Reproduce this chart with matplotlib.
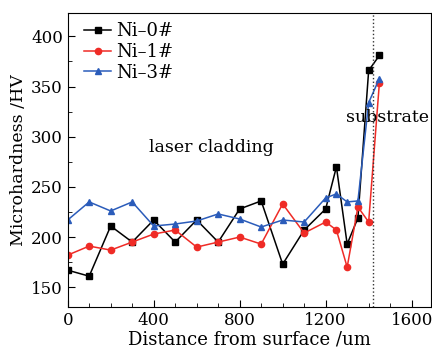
import numpy as np
import matplotlib
matplotlib.use("Agg")
import matplotlib.pyplot as plt
from matplotlib.ticker import MultipleLocator

plt.rcParams['font.family'] = ['DejaVu Serif']
plt.rcParams['mathtext.fontset'] = 'dejavuserif'

# distance from surface (um)
dist = [0, 100, 200, 300, 400, 500, 600, 700, 800, 900, 1000, 1100, 1200, 1250, 1300, 1350, 1400, 1450]
ni0 = [167, 161, 211, 195, 217, 195, 217, 195, 228, 236, 173, 207, 228, 270, 193, 219, 366, 381]
ni1 = [182, 191, 187, 195, 203, 207, 190, 195, 200, 193, 233, 204, 215, 207, 170, 230, 215, 354]
ni3 = [217, 235, 226, 235, 211, 213, 216, 223, 218, 210, 217, 215, 239, 243, 235, 236, 334, 358]
labels = ["Ni\u20130#", "Ni\u20131#", "Ni\u20133#"]
boundary = 1420

fig = plt.figure(figsize=(4.32, 3.49), dpi=100)
ax = fig.add_axes([0.1567, 0.1195, 0.8410, 0.8424])

ax.plot(dist, ni0, color='black', marker='s', ms=4.2, lw=1.1, label=labels[0])
ax.plot(dist, ni1, color='#ef2b26', marker='o', ms=4.5, lw=1.1, label=labels[1])
ax.plot(dist, ni3, color='#2b5cba', marker='^', ms=5, lw=1.1, label=labels[2])
ax.axvline(boundary, color='#333333', ls=':', lw=1.0)

ax.text(667, 289, "laser cladding", ha='center', va='center', fontsize=12.5)
ax.text(1486, 319, "substrate", ha='center', va='center', fontsize=12.5)

ax.set_xlim(0, 1690)
ax.set_ylim(130, 423)
ax.xaxis.set_major_locator(MultipleLocator(400))
ax.xaxis.set_minor_locator(MultipleLocator(100))
ax.yaxis.set_major_locator(MultipleLocator(50))
ax.yaxis.set_minor_locator(MultipleLocator(25))
ax.tick_params(which='both', direction='in', labelsize=12)
ax.tick_params(which='major', length=5)
ax.tick_params(which='minor', length=3)
ax.set_xlabel("Distance from surface /um", fontsize=13, labelpad=1)
ax.set_ylabel("Microhardness /HV", fontsize=12.5, labelpad=3)

ax.legend(loc='upper left', bbox_to_anchor=(0.045, 0.97), frameon=False,
          fontsize=13, handlelength=1.5, handletextpad=0.3, labelspacing=0.15,
          borderaxespad=0, borderpad=0)

fig.savefig("out.png", dpi=100)
